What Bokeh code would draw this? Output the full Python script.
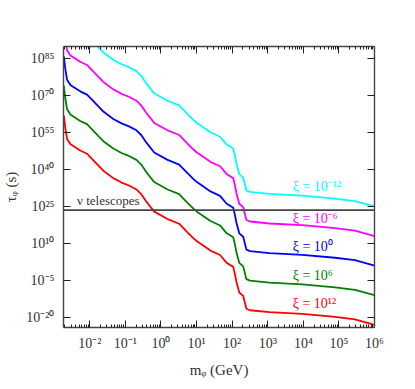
from bokeh.plotting import figure
from bokeh.models import FixedTicker, LogAxis, Span, Label, CustomJSTickFormatter
from bokeh.embed import file_html
from bokeh.resources import INLINE

# ---- data (log10 values) ----
mass_log10 = [-2.73, -2.69, -2.64, -2.54, -2.27, -2.08, -1.90, -1.62, -1.34, -1.11,
              -0.90, -0.69, -0.55, -0.42, -0.19, 0.17, 0.51, 0.73, 0.92, 1.01,
              1.39, 1.66, 1.84, 2.03, 2.08, 2.12, 2.20, 2.31, 2.40, 2.50,
              3.05, 3.97, 4.89, 5.45, 6.00]

tau_xi_m12 = [110.0, 105.0, 100.5, 98.3, 95.8, 94.5, 91.8, 87.6, 84.6, 82.8,
              81.6, 80.0, 78.0, 75.2, 71.0, 68.1, 66.1, 62.8, 60.1, 59.0,
              55.2, 53.4, 50.3, 48.6, 45.5, 42.5, 38.2, 36.8, 31.6, 31.0,
              30.2, 29.5, 28.3, 27.3, 25.1]
tau_xi_m6 = [98.0, 93.0, 88.5, 86.3, 83.8, 82.5, 79.8, 75.6, 72.6, 70.8,
             69.6, 68.0, 66.0, 63.2, 59.0, 56.1, 54.1, 50.8, 48.1, 47.0,
             43.2, 41.4, 38.3, 36.6, 33.5, 30.5, 26.2, 24.8, 19.6, 19.0,
             18.2, 17.5, 16.3, 15.3, 13.1]
tau_xi_0 = [86.0, 81.0, 76.5, 74.3, 71.8, 70.5, 67.8, 63.6, 60.6, 58.8,
            57.6, 56.0, 54.0, 51.2, 47.0, 44.1, 42.1, 38.8, 36.1, 35.0,
            31.2, 29.4, 26.3, 24.6, 21.5, 18.5, 14.2, 12.8, 7.6, 7.0,
            6.2, 5.5, 4.3, 3.3, 1.1]
tau_xi_6 = [74.0, 69.0, 64.5, 62.3, 59.8, 58.5, 55.8, 51.6, 48.6, 46.8,
            45.6, 44.0, 42.0, 39.2, 35.0, 32.1, 30.1, 26.8, 24.1, 23.0,
            19.2, 17.4, 14.3, 12.6, 9.5, 6.5, 2.2, 0.8, -4.4, -5.0,
            -5.8, -6.5, -7.7, -8.7, -10.9]
tau_xi_12 = [62.0, 57.0, 52.5, 50.3, 47.8, 46.5, 43.8, 39.6, 36.6, 34.8,
             33.6, 32.0, 30.0, 27.2, 23.0, 20.1, 18.1, 14.8, 12.1, 11.0,
             7.2, 5.4, 2.3, 0.6, -2.5, -5.5, -9.8, -11.2, -16.4, -17.0,
             -17.8, -18.5, -19.7, -20.7, -22.9]

series = [tau_xi_m12, tau_xi_m6, tau_xi_0, tau_xi_6, tau_xi_12]
series_labels = ["ξ = 10⁻¹²", "ξ = 10⁻⁶", "ξ = 10⁰", "ξ = 10⁶", "ξ = 10¹²"]
label_pos_log10 = [(3.70, 33.3), (3.70, 20.1), (3.70, 8.8), (3.70, -2.8), (3.70, -14.4)]
colors = ["#00FFFF", "#FF00FF", "#0000FF", "#008000", "#FF0000"]

nu_limit = 10 ** 23.6
nu_label = "ν telescopes"

x_ticks = [10.0 ** k for k in range(-2, 7)]
y_ticks = [10.0 ** k for k in [-20, -5, 10, 25, 40, 55, 70, 85]]
x_minor = [m * 10.0 ** k for k in range(-3, 6) for m in range(2, 10)]

FONT = "'Liberation Serif', serif"

p = figure(width=410, height=380, x_axis_type="log", y_axis_type="log",
           x_range=(10 ** -2.74, 10 ** 6.0), y_range=(1e-24, 1e90),
           output_backend="svg", toolbar_location=None,
           min_border_left=58, min_border_right=36, min_border_top=46, min_border_bottom=50)
p.grid.visible = False
p.outline_line_color = None
p.background_fill_color = "white"

for vals, col in zip(series, colors):
    p.line([10 ** v for v in mass_log10], [10 ** v for v in vals], line_color=col, line_width=1.8)

p.add_layout(Span(location=nu_limit, dimension="width", line_color="#444444", line_width=1.6))

fmt_code = """
const sup = {'0':'⁰','1':'¹','2':'²','3':'³','4':'⁴','5':'⁵','6':'⁶','7':'⁷','8':'⁸','9':'⁹','-':'⁻'};
const e = Math.round(Math.log10(tick));
return '10' + String(e).split('').map(c => sup[c]).join('');
"""
fmt = CustomJSTickFormatter(code=fmt_code)

xt = FixedTicker(ticks=x_ticks, minor_ticks=x_minor)
yt = FixedTicker(ticks=y_ticks, minor_ticks=[])

def style(ax, labels=True):
    ax.axis_line_color = "#444444"
    ax.axis_line_width = 1.4
    ax.major_tick_line_color = "#222222"
    ax.minor_tick_line_color = "#222222"
    ax.major_tick_in = 7
    ax.major_tick_out = 0
    ax.minor_tick_in = 3
    ax.minor_tick_out = 0
    ax.major_label_text_font = FONT
    ax.major_label_text_font_size = "14px"
    ax.major_label_text_color = "#333333" if labels else None
    ax.axis_label_text_font = FONT
    ax.axis_label_text_font_size = "15px"
    ax.axis_label_text_font_style = "normal"
    ax.axis_label_text_color = "#333333"

xa = p.xaxis[0]
xa.ticker = xt
xa.formatter = fmt
xa.axis_label = "mᵩ (GeV)"
style(xa)
xa.major_label_standoff = 8
xa.axis_label_standoff = 8

ya = p.yaxis[0]
ya.ticker = yt
ya.formatter = fmt
ya.axis_label = "τᵩ (s)"
style(ya)
ya.major_label_standoff = 9
ya.axis_label_standoff = 4

top = LogAxis(ticker=FixedTicker(ticks=x_ticks, minor_ticks=x_minor), formatter=fmt)
style(top, labels=False)
top.major_label_text_font_size = "0px"
top.major_label_standoff = 0
p.add_layout(top, "above")

right = LogAxis(ticker=FixedTicker(ticks=y_ticks, minor_ticks=[]), formatter=fmt)
style(right, labels=False)
right.major_label_text_font_size = "0px"
right.major_label_standoff = 0
p.add_layout(right, "right")

for (lx, ly), txt, col in zip(label_pos_log10, series_labels, colors):
    p.add_layout(Label(x=10 ** lx, y=10 ** ly, text=txt, text_color=col,
                       text_font=FONT, text_font_size="14px",
                       text_align="left", text_baseline="middle"))

p.add_layout(Label(x=10 ** -2.36, y=10 ** 27.7, text=nu_label, text_color="#333333",
                   text_font=FONT, text_font_size="13px",
                   text_align="left", text_baseline="middle"))

open("out.html", "w").write(file_html(p, INLINE))
